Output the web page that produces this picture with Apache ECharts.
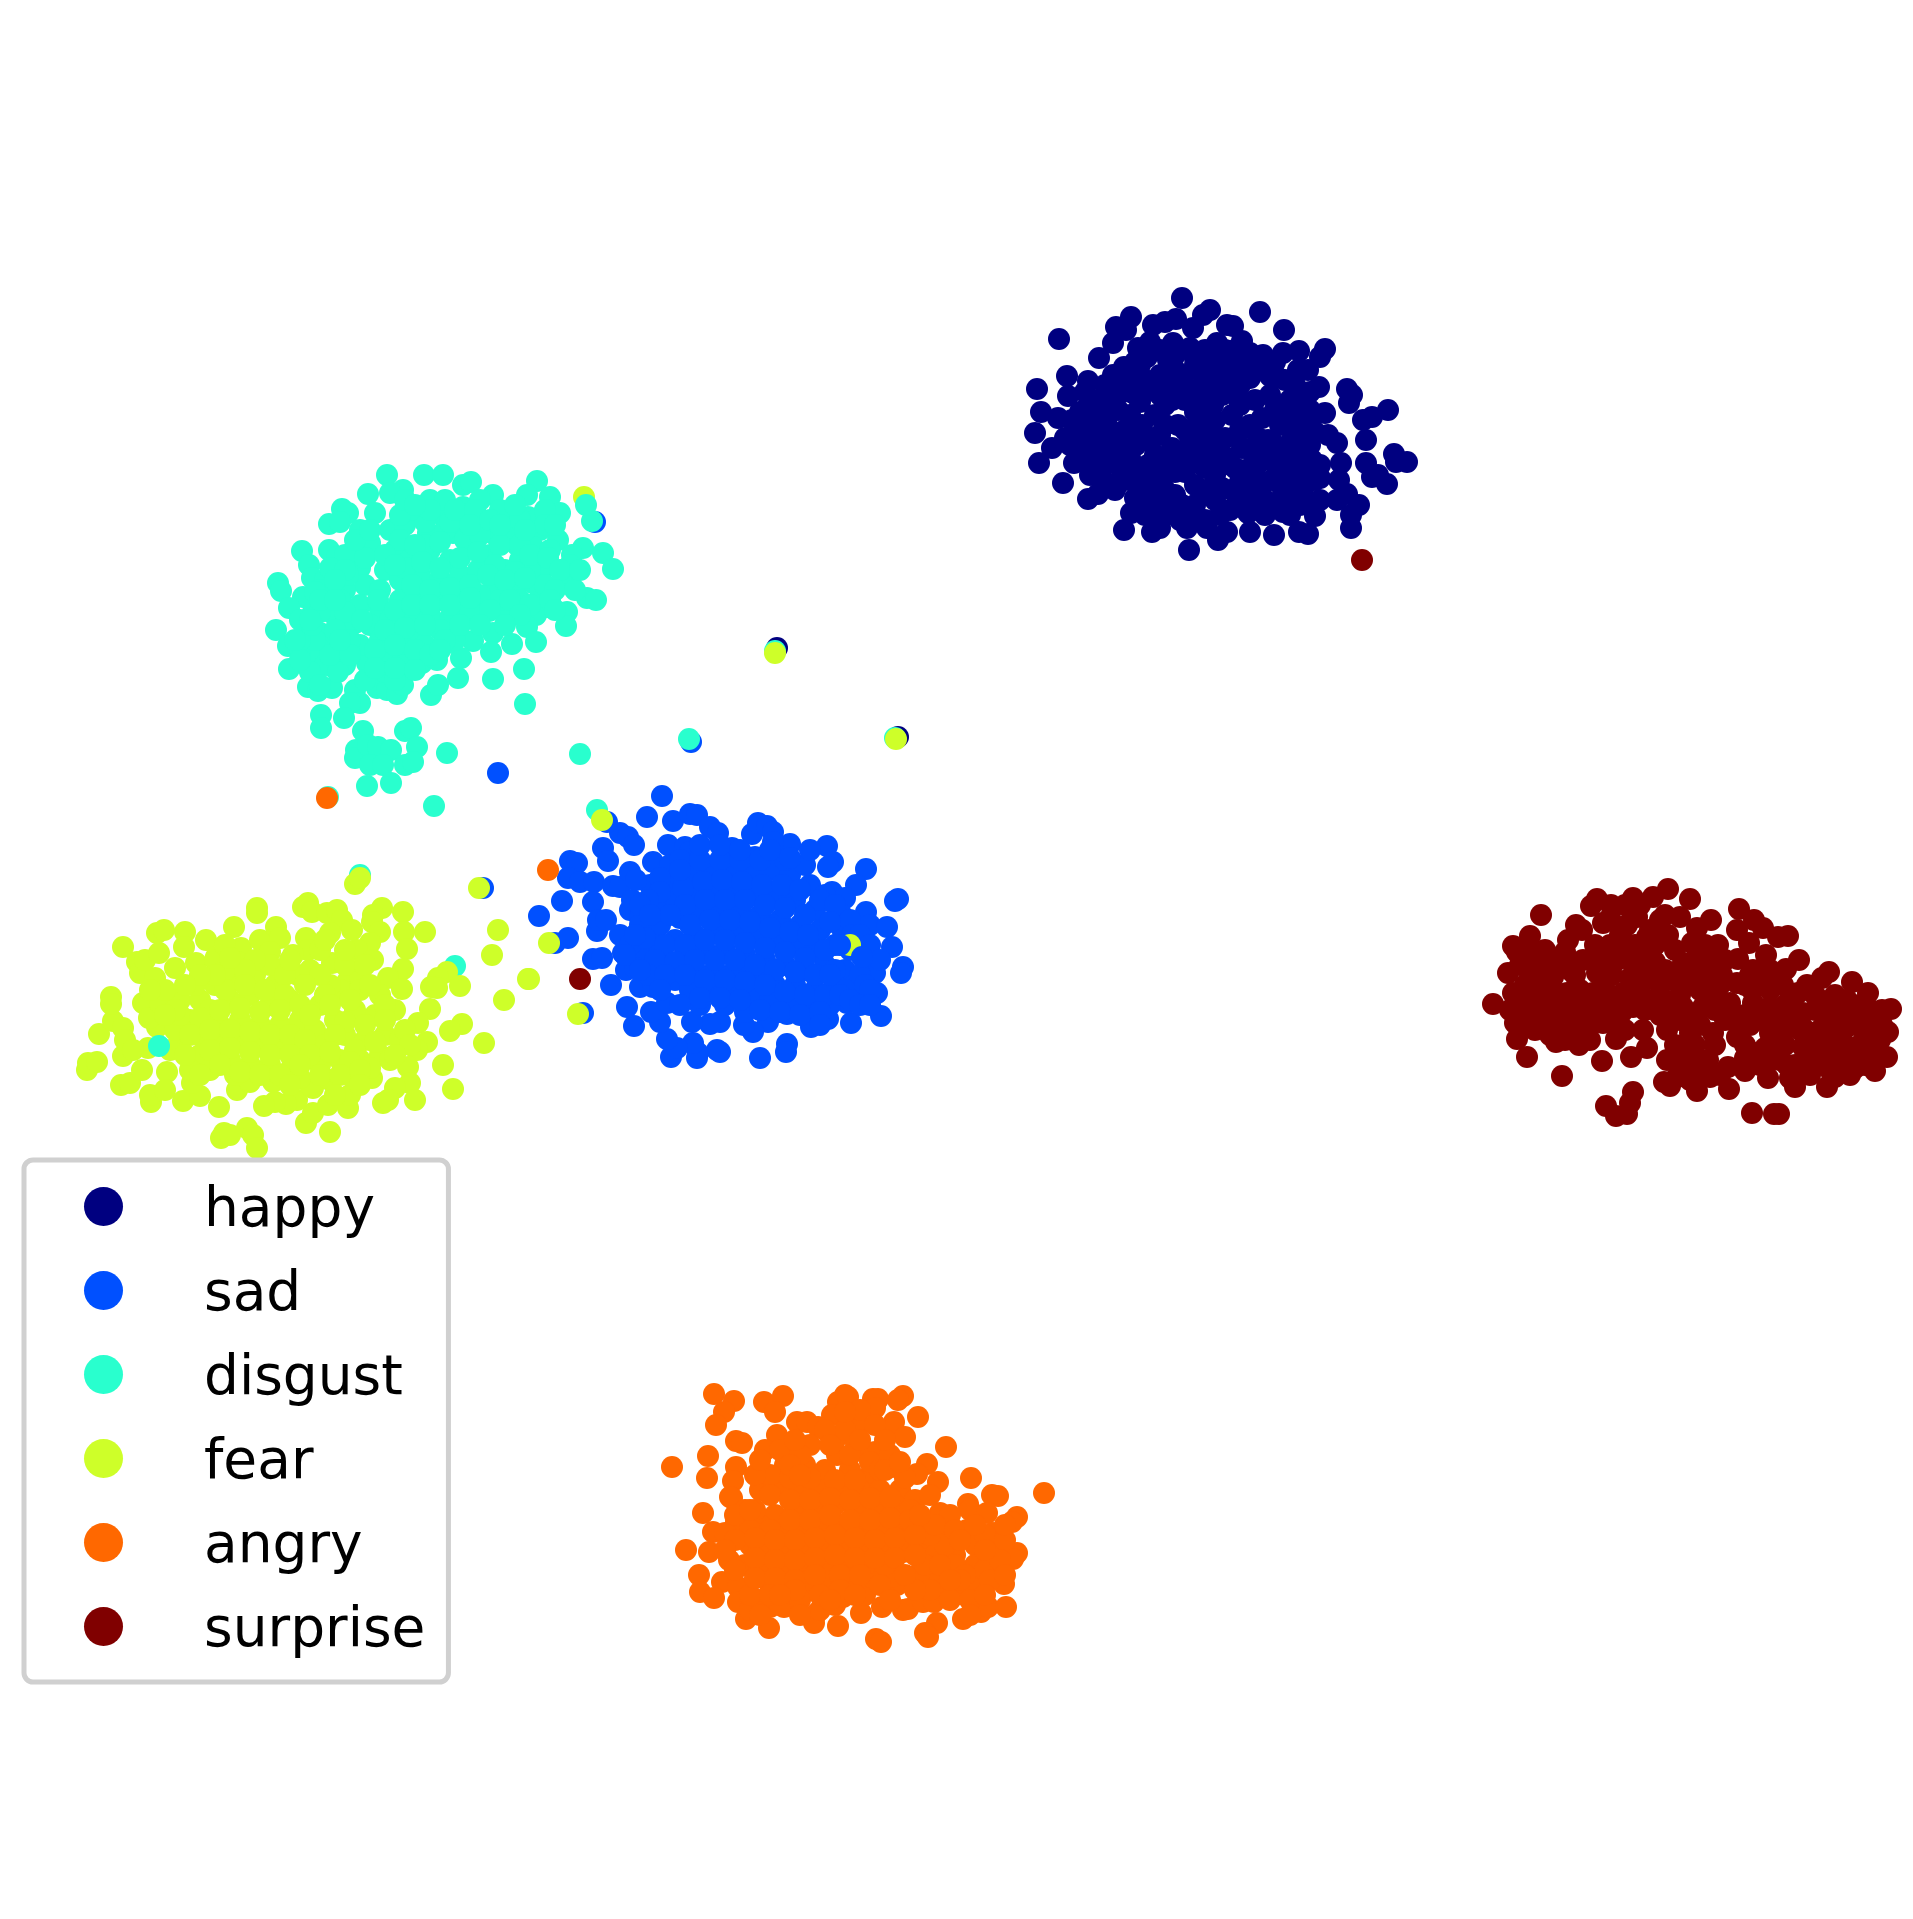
<!DOCTYPE html>
<html lang="en">

<head>
    <meta charset="UTF-8">
    <title>Emotion clusters</title>
    <script src="https://cdn.jsdelivr.net/npm/echarts@6/dist/echarts.min.js"></script>
    <style>
        body { margin: 0; background: #fff; }
        #main { width: 1913px; height: 1919px; }
    </style>
</head>

<body>
    <div id="main"></div>
    <script>
        // points, x / y in the picture's own scale
        var labels = ['happy', 'sad', 'disgust', 'fear', 'angry', 'surprise'];
        var colors = ['#000080', '#0050ff', '#29ffce', '#ceff29', '#ff6800', '#800000'];

        var happy = [[1182,298],[1059,339],[1260,312],[1284,330],[1210,310],[1203,315],[1131,317],[1116,327],[1126,330],[1113,343],[1099,358],[1153,325],[1165,322],[1176,319],[1193,328],[1227,325],[1233,326],[1242,341],[1217,343],[1173,343],[1150,342],[1138,348],[1147,357],[1250,353],[1263,355],[1283,353],[1299,351],[1325,349],[1320,357],[1308,370],[1298,370],[1277,377],[1270,376],[1319,387],[1310,392],[1302,397],[1347,389],[1352,395],[1349,403],[1388,410],[1372,417],[1363,420],[1366,440],[1394,454],[1396,462],[1407,462],[1366,463],[1372,477],[1378,475],[1387,484],[1359,505],[1351,515],[1351,528],[1325,413],[1315,432],[1328,435],[1337,443],[1310,445],[1341,463],[1320,478],[1339,480],[1347,494],[1320,500],[1337,500],[1315,516],[1308,534],[1299,532],[1274,535],[1283,512],[1250,532],[1248,513],[1227,532],[1218,540],[1207,528],[1189,550],[1187,528],[1160,528],[1152,532],[1124,530],[1131,513],[1135,498],[1132,480],[1153,478],[1103,480],[1098,494],[1088,499],[1063,483],[1074,463],[1095,460],[1039,463],[1052,448],[1065,438],[1035,433],[1041,412],[1058,418],[1072,420],[1037,389],[1067,376],[1068,396],[1088,381],[1090,403],[1113,375],[1124,367],[1130,378],[1108,395],[1133,393],
            [1100,400],[1118,410],[1140,402],[1155,415],[1172,400],[1190,390],[1205,385],[1222,395],[1240,385],[1255,400],[1275,410],[1290,420],[1300,440],[1285,455],[1268,440],[1250,425],[1232,415],[1213,405],[1195,412],[1178,425],[1160,435],[1142,425],[1125,430],[1107,425],[1090,430],[1082,448],[1100,448],[1118,452],[1136,445],[1155,455],[1172,448],[1190,438],[1208,430],[1225,438],[1242,448],[1260,462],[1278,470],[1295,478],[1305,465],[1283,490],[1262,485],[1245,470],[1228,458],[1210,452],[1192,462],[1175,472],[1158,478],[1140,468],[1122,470],[1105,465],[1115,490],[1175,495],[1195,485],[1215,475],[1232,490],[1250,500],[1195,505],[1170,510],[1150,505],[1215,500],[1230,510],[1205,520],[1180,520],[1160,375],[1175,370],[1195,365],[1215,365],[1235,370],[1160,395],[1205,350],[1190,348],[1225,350],
            [1168,360],[1195,358],[1222,362],[1245,365],[1262,368],[1145,380],[1165,385],[1183,378],[1203,375],[1222,380],[1250,378],[1085,392],[1122,392],[1148,390],[1178,388],[1215,392],[1238,398],[1270,395],[1290,400],[1080,412],[1098,412],[1130,415],[1165,405],[1185,400],[1205,398],[1215,420],[1240,405],[1262,418],[1280,425],[1300,412],[1075,435],[1095,438],[1115,438],[1130,440],[1148,440],[1165,425],[1185,430],[1200,420],[1240,430],[1258,438],[1275,445],[1292,440],[1070,445],[1085,462],[1112,460],[1130,458],[1148,465],[1165,462],[1182,455],[1200,445],[1218,445],[1235,468],[1252,452],[1270,455],[1288,470],[1300,455],[1120,482],[1135,480],[1147,490],[1165,490],[1185,472],[1205,468],[1222,465],[1240,482],[1255,475],[1272,480],[1295,495],[1305,485],[1160,495],[1182,505],[1205,490],[1222,488],[1245,490],[1265,500],[1280,505],[1300,505],
            [1160,350],[1175,355],[1135,362],[1140,365],[1235,350],[1250,365],[1275,362],[1285,380],[1295,385],[1310,410],[1300,395],[1085,410],[1105,385],[1095,420],[1080,425],[1110,440],[1090,475],[1105,445],[1170,500],[1145,515],[1165,515],[1190,515],[1220,515],[1240,505],[1265,515],[1290,515],[1310,425],[1312,460],[1300,425],[1320,465],[1315,480],[1305,500],
            [777,648],[898,737]];

        var sad = [[662,796],[647,817],[673,821],[690,814],[697,815],[710,827],[718,833],[620,833],[628,837],[634,845],[603,848],[608,861],[570,861],[577,863],[568,878],[580,882],[594,882],[562,901],[593,902],[613,886],[620,887],[630,872],[653,862],[668,845],[685,847],[690,852],[732,848],[752,834],[758,823],[767,826],[773,832],[790,844],[755,857],[773,842],[827,846],[833,862],[828,867],[866,869],[856,885],[832,892],[845,898],[866,912],[841,914],[898,899],[895,901],[870,925],[887,927],[843,932],[892,947],[863,957],[875,973],[903,967],[901,973],[877,993],[857,992],[881,1016],[851,1023],[847,1003],[828,1019],[811,1027],[787,1014],[787,1044],[786,1052],[760,1058],[768,1022],[753,1032],[744,1025],[720,1052],[717,1050],[697,1058],[698,1053],[693,1043],[671,1057],[677,1048],[667,1039],[720,1022],[710,1024],[692,1022],[660,1022],[651,1012],[667,1003],[634,1026],[627,1007],[611,985],[640,987],[653,987],[626,970],[655,968],[593,959],[602,958],[623,953],[640,953],[597,931],[598,920],[606,920],[620,935],[630,910],[640,918],[632,900],
            [650,885],[670,880],[690,875],[710,870],[730,870],[750,875],[770,870],[790,875],[810,885],[825,895],[815,910],[795,900],[775,895],[755,895],[735,890],[715,890],[695,893],[675,900],[655,905],[640,925],[660,925],[680,918],[700,912],[720,910],[740,910],[760,915],[780,920],[800,925],[820,930],[835,945],[815,950],[795,945],[775,940],[755,935],[735,930],[715,930],[695,935],[675,940],[655,945],[645,960],[665,960],[685,955],[705,950],[725,950],[745,955],[765,960],[785,965],[805,970],[825,965],[845,970],[855,985],[835,985],[815,990],[795,985],[775,985],[755,975],[735,970],[715,970],[695,970],[675,980],[690,990],[710,990],[730,990],[750,995],[770,1000],[790,1000],[810,1005],[830,1005],[700,1005],[725,1005],[745,1012],[680,1005],
            [670,865],[680,860],[700,860],[720,860],[740,860],[760,860],[785,860],[805,865],[660,878],[660,892],[683,888],[703,882],[722,880],[742,882],[762,885],[782,885],[800,890],[820,900],[685,905],[705,900],[725,900],[745,900],[765,905],[785,908],[805,915],[835,905],[850,920],[670,915],[690,925],[710,920],[730,920],[750,922],[770,928],[790,932],[808,935],[830,922],[852,935],[630,945],[645,938],[665,945],[685,945],[705,940],[725,940],[745,943],[765,948],[785,952],[805,958],[825,950],[850,950],[635,968],[655,960],[675,962],[695,960],[715,960],[735,960],[755,965],[775,970],[795,972],[815,975],[835,970],[860,975],[648,975],[665,975],[685,975],[705,980],[725,980],[745,982],[765,985],[785,992],[805,995],[825,995],[845,990],[865,985],[660,990],[700,998],[720,998],[740,1000],[760,1010],[780,1012],[800,1015],[820,1012],[840,995],[870,990],
            [636,880],[648,900],[640,905],[635,935],[650,915],[625,955],[640,970],[860,935],[870,945],[880,960],[850,1000],[860,1005],[830,975],[870,1005],[820,1025],[700,845],[720,845],[740,850],[680,870],[770,850],[790,858],[810,850],
            [691,742],[595,522],[607,822],[555,943],[583,1013],[483,888],[498,773],[539,916],[568,938]];

        var disgust = [[387,475],[424,475],[443,475],[463,485],[471,482],[537,481],[527,495],[550,497],[560,513],[493,495],[480,500],[403,490],[390,493],[368,494],[342,509],[348,513],[329,524],[340,522],[375,513],[413,512],[442,515],[463,507],[505,515],[528,517],[538,518],[540,530],[558,540],[428,533],[356,543],[370,543],[390,530],[453,533],[483,523],[517,545],[533,547],[583,548],[572,555],[603,553],[613,569],[570,565],[570,577],[562,583],[545,567],[533,583],[302,551],[329,550],[337,557],[309,565],[360,568],[278,583],[281,591],[312,578],[303,597],[289,608],[313,612],[332,613],[587,598],[596,600],[567,612],[547,607],[536,615],[566,626],[527,627],[536,642],[507,612],[489,611],[493,633],[473,641],[512,644],[491,652],[524,669],[493,679],[525,704],[466,618],[472,600],[276,630],[288,646],[308,637],[320,633],[333,639],[289,669],[308,667],[308,687],[318,691],[332,688],[350,643],[355,623],[355,690],[360,703],[350,703],[344,718],[321,715],[321,728],[377,688],[387,690],[397,694],[403,685],[431,695],[438,685],[458,678],[461,658],[422,663],[437,660],[447,643],[407,647],[395,655],[383,663],[367,663],[333,667],
            [363,731],[405,731],[411,728],[417,747],[447,753],[356,750],[355,758],[368,745],[378,747],[391,750],[370,765],[383,765],[405,765],[413,762],[367,786],[391,783],[434,806],[580,754],[597,810],
            [395,550],[410,560],[430,550],[450,560],[470,545],[490,555],[505,570],[520,560],[385,570],[365,585],[345,590],[325,595],[325,580],[380,590],[400,580],[420,575],[440,580],[460,575],[478,570],[495,585],[515,590],[540,590],[520,600],[500,600],[480,595],[460,600],[440,600],[420,595],[400,600],[380,610],[360,605],[340,600],[345,625],[370,625],[390,620],[410,615],[430,615],[450,618],[470,610],[440,630],[420,635],[400,640],[380,640],[455,640],[360,645],[320,650],[310,655],[325,665],[345,665],[365,680],[385,672],[405,665],[425,645],[338,672],[310,672],[395,680],[530,570],[545,585],[465,525],[445,530],[425,545],
            [405,525],[425,522],[450,522],[495,535],[510,530],[520,520],[500,510],[400,540],[415,545],[440,542],[465,540],[480,535],[500,545],[520,545],[550,550],[345,555],[365,558],[385,555],[405,568],[422,562],[440,568],[460,558],[478,552],[495,565],[515,572],[530,555],[548,558],[560,570],[330,568],[348,575],[395,565],[412,585],[430,590],[450,588],[470,585],[488,575],[505,580],[525,578],[555,590],[575,590],[320,612],[345,612],[362,620],[378,600],[395,610],[412,605],[430,605],[450,605],[470,598],[490,610],[510,600],[530,605],[550,600],[335,630],[350,640],[385,630],[405,628],[425,625],[445,640],[460,625],[375,650],[395,645],[415,650],[430,655],[440,650],[340,650],[330,655],[350,655],[300,650],[315,640],[300,640],[300,660],[320,685],[375,668],[395,668],[415,670],[410,510],[430,500],[445,500],[430,510],[400,515],
            [360,530],[405,500],[415,505],[455,510],[475,510],[470,525],[515,505],[545,510],[545,525],[490,520],[525,530],[555,525],[500,525],[320,590],[345,570],[315,592],[335,580],[355,540],[370,530],[580,570],[555,610],[520,615],[505,625],[480,625],[320,600],[335,600],[300,620],[312,625],[340,640],[295,640],[310,620],
            [592,521],[328,797],[689,739],[775,651],[895,738],[360,875],[455,966]];

        var fear = [[355,884],[360,878],[479,888],[498,930],[492,955],[528,979],[504,1000],[484,1043],[447,972],[438,978],[431,987],[437,988],[460,986],[462,1024],[450,1031],[443,1065],[453,1089],[430,1009],[418,1023],[427,1042],[417,1050],[408,1067],[410,1083],[415,1100],[395,1088],[383,1103],[388,1100],[330,1132],[306,1123],[313,1113],[328,1105],[348,1108],[350,1095],[372,1078],[297,1100],[286,1104],[275,1102],[264,1106],[313,1088],[273,1082],[283,1077],[237,1090],[250,1082],[219,1107],[247,1128],[253,1135],[257,1148],[221,1138],[224,1133],[230,1135],[183,1101],[200,1096],[192,1083],[151,1102],[150,1095],[121,1085],[130,1083],[142,1070],[167,1072],[87,1070],[88,1063],[97,1062],[123,1056],[99,1034],[113,1021],[123,1028],[125,1040],[111,997],[111,1004],[143,1003],[157,1027],[149,1018],[160,1003],[180,1000],[123,947],[137,962],[140,973],[155,978],[145,960],[159,953],[157,933],[164,930],[185,932],[184,947],[206,940],[216,957],[196,963],[175,968],[234,927],[257,908],[257,913],[241,948],[260,940],[276,927],[280,938],[237,962],[253,965],[270,952],[306,938],[308,950],[293,955],[308,903],[303,907],[312,912],[327,913],[337,910],[342,920],[330,933],[352,930],[382,908],[373,915],[372,922],[380,932],[403,912],[404,932],[425,932],[407,949],[370,943],[357,950],[373,960],[403,969],[388,978],[402,989],[332,963],[298,975],[347,982],[360,977],[148,1048],[133,1050],
            [200,1000],[215,985],[235,980],[255,975],[275,985],[290,1000],[270,1005],[250,995],[230,1000],[210,1010],[190,1020],[180,1040],[200,1035],[220,1025],[240,1020],[260,1025],[280,1025],[300,1020],[320,1005],[340,990],[360,990],[380,995],[395,1010],[375,1015],[355,1010],[335,1020],[315,1030],[325,1045],[345,1035],[365,1040],[385,1035],[400,1040],[380,1055],[360,1060],[340,1060],[320,1065],[300,1050],[280,1045],[260,1045],[240,1040],[220,1045],[200,1055],[210,1070],[230,1060],[250,1065],[270,1065],[290,1070],[310,1085],[330,1080],[350,1075],[235,1075],[190,1070],[170,1050],[175,1030],[270,965],[310,970],[330,985],[255,960],[390,1060],[405,1030],[410,1045],[215,960],[195,985],[300,1078],[165,1090],
            [225,970],[245,970],[285,975],[320,975],[345,965],[365,965],[225,990],[245,985],[265,990],[285,995],[305,985],[325,995],[350,1000],[370,985],[385,1005],[180,1015],[200,1018],[220,1010],[240,1008],[260,1012],[280,1010],[300,1005],[310,1015],[330,1005],[345,1022],[365,1025],[385,1020],[190,1035],[210,1030],[230,1030],[250,1032],[270,1035],[290,1035],[305,1040],[335,1035],[355,1050],[375,1042],[395,1055],[185,1055],[210,1050],[230,1048],[250,1052],[270,1055],[290,1055],[310,1055],[330,1052],[350,1062],[370,1068],[200,1075],[220,1065],[240,1072],[260,1075],[280,1075],[300,1065],[320,1075],[340,1075],[360,1070],[290,1085],[335,1095],[360,1085],
            [225,945],[230,958],[215,975],[200,975],[185,985],[165,990],[150,990],[175,1010],[165,1015],[290,960],[320,950],[345,950],[325,940],
            [584,497],[775,653],[896,739],[602,820],[549,943],[578,1014],[529,979],[850,945]];

        var angry = [[714,1394],[734,1401],[724,1412],[716,1425],[764,1402],[783,1396],[775,1412],[845,1395],[838,1402],[848,1397],[873,1399],[878,1399],[875,1408],[903,1396],[898,1400],[918,1417],[894,1422],[893,1428],[905,1437],[859,1425],[832,1415],[797,1422],[807,1422],[818,1427],[777,1435],[736,1441],[742,1443],[765,1450],[946,1447],[927,1464],[938,1482],[917,1474],[895,1467],[875,1452],[857,1450],[837,1455],[708,1456],[672,1467],[707,1478],[736,1467],[733,1481],[764,1482],[732,1498],[730,1497],[971,1478],[992,1495],[998,1496],[1044,1493],[968,1504],[970,1510],[987,1513],[1017,1517],[1012,1522],[940,1513],[703,1513],[713,1532],[736,1522],[725,1533],[686,1550],[709,1552],[729,1560],[699,1575],[700,1592],[722,1582],[714,1598],[738,1587],[738,1602],[746,1619],[769,1628],[750,1610],[784,1607],[770,1607],[808,1590],[816,1614],[814,1623],[835,1605],[843,1597],[838,1626],[861,1613],[865,1595],[882,1607],[876,1639],[881,1642],[903,1610],[908,1609],[897,1585],[923,1602],[934,1602],[937,1623],[925,1633],[928,1637],[963,1619],[981,1612],[988,1607],[1006,1607],[1004,1584],[961,1594],[978,1588],[1017,1553],[1013,1559],[993,1565],[993,1533],[967,1530],[952,1533],[953,1575],[933,1583],[920,1572],[893,1577],[903,1552],[873,1578],
            [790,1450],[810,1445],[835,1440],[855,1440],[785,1465],[805,1465],[825,1470],[850,1470],[870,1475],[780,1485],[800,1490],[820,1490],[840,1490],[860,1490],[880,1490],[900,1490],[915,1500],[895,1505],[875,1510],[855,1510],[835,1505],[815,1510],[795,1510],[775,1515],[760,1525],[780,1530],[800,1530],[820,1525],[840,1525],[860,1530],[880,1530],[900,1525],[920,1525],[940,1535],[925,1545],[905,1545],[885,1550],[865,1550],[845,1545],[825,1545],[805,1550],[785,1550],[765,1550],[750,1545],[745,1565],[765,1570],[785,1570],[805,1570],[825,1565],[845,1565],[865,1565],[885,1565],[770,1585],[790,1590],[810,1580],[830,1585],[850,1580],[760,1600],[780,1605],[935,1555],[955,1555],[975,1545],[975,1565],[995,1550],[955,1565],[975,1585],[945,1545],[925,1565],[750,1595],[735,1570],[760,1490],[745,1510],[820,1610],
            [780,1450],[800,1455],[850,1455],[870,1462],[890,1455],[795,1440],[845,1430],[860,1410],[845,1412],[825,1430],[875,1425],[860,1440],[770,1475],[790,1478],[810,1478],[835,1480],[855,1480],[880,1470],[905,1478],[770,1495],[790,1500],[810,1500],[830,1498],[850,1500],[870,1498],[890,1498],[910,1510],[930,1495],[750,1530],[770,1530],[790,1520],[810,1520],[830,1515],[850,1520],[870,1520],[890,1518],[910,1520],[930,1535],[950,1515],[735,1540],[755,1538],[775,1540],[795,1540],[815,1538],[835,1535],[855,1538],[875,1540],[895,1538],[915,1535],[755,1558],[775,1560],[795,1560],[815,1558],[835,1555],[855,1558],[875,1558],[895,1558],[915,1555],[940,1565],[985,1535],[1005,1540],[985,1570],[965,1575],[755,1578],[775,1578],[795,1580],[815,1575],[840,1575],[860,1575],[880,1585],[940,1590],[960,1580],[990,1580],[770,1595],[800,1600],[820,1595],[840,1590],[950,1600],[970,1600],
            [935,1525],[955,1530],[975,1525],[1005,1525],[1000,1560],[1005,1575],[960,1540],[985,1550],[950,1580],[970,1615],[985,1595],[930,1590],[915,1590],[905,1575],[890,1600],[920,1515],[755,1475],[760,1460],[790,1465],[800,1475],[885,1470],[900,1462],[885,1440],[830,1445],[755,1510],[735,1515],[725,1550],[750,1510],[800,1615],[795,1590],[760,1615],[780,1595],[855,1595],[830,1600],
            [327,798],[548,870]];

        var surprise = [[1541,915],[1530,936],[1513,946],[1517,952],[1532,955],[1508,973],[1530,972],[1547,964],[1493,1004],[1513,993],[1515,1023],[1527,1026],[1517,1039],[1527,1057],[1556,1042],[1550,1035],[1579,1045],[1583,1033],[1562,1076],[1602,1061],[1603,1023],[1616,1039],[1631,1057],[1647,1048],[1643,1030],[1633,1092],[1606,1106],[1630,1103],[1616,1116],[1627,1114],[1752,1113],[1774,1114],[1779,1114],[1795,1087],[1768,1078],[1745,1071],[1729,1089],[1697,1091],[1670,1086],[1664,1082],[1677,1077],[1667,1060],[1683,1057],[1708,1060],[1728,1067],[1710,1077],[1827,1087],[1835,1077],[1855,1068],[1875,1071],[1887,1057],[1888,1032],[1891,1009],[1882,1010],[1868,993],[1852,982],[1847,1000],[1829,972],[1828,1007],[1822,978],[1807,985],[1798,993],[1786,969],[1799,960],[1766,955],[1788,936],[1778,937],[1763,928],[1754,920],[1739,909],[1737,930],[1749,943],[1738,959],[1711,920],[1718,945],[1697,928],[1692,943],[1680,917],[1690,899],[1668,889],[1653,897],[1633,898],[1611,905],[1597,899],[1591,906],[1603,923],[1627,925],[1576,925],[1582,930],[1568,940],[1565,952],[1595,945],[1623,947],[1647,937],[1660,920],[1637,917],[1683,963],[1708,970],[1753,970],[1767,982],[1787,1065],[1807,1063],[1822,1062],[1853,1060],[1873,1050],[1843,1050],[1873,1023],[1847,1027],[1820,1030],[1803,1013],[1787,1027],[1803,1047],[1770,1033],[1757,1053],[1737,1037],[1713,1033],[1690,1033],[1667,1030],[1703,1007],[1730,1003],[1753,1003],[1770,1007],[1737,983],[1683,1007],[1673,980],[1693,980],[1650,1007],[1657,980],[1637,973],[1643,957],[1617,960],[1623,993],[1597,973],[1583,960],[1570,970],[1553,977],[1543,993],[1567,993],[1593,993],[1537,1013],[1560,1013],[1580,1013],[1610,1007],[1633,1007],[1535,1000],[1520,1005],
            [1610,918],[1625,905],[1640,905],[1620,935],[1650,930],[1665,915],[1610,945],[1635,945],[1655,945],[1668,935],[1675,950],[1560,965],[1595,960],[1610,958],[1630,960],[1655,962],[1665,970],[1695,960],[1722,975],[1745,985],[1540,975],[1575,975],[1612,975],[1630,978],[1650,975],[1720,985],[1705,985],[1750,975],[1770,970],[1525,985],[1555,992],[1580,990],[1605,990],[1640,992],[1660,995],[1752,990],[1770,990],[1783,985],[1655,1000],[1510,1010],[1530,1012],[1550,1005],[1570,1005],[1595,1012],[1622,1012],[1645,1010],[1670,1008],[1695,1015],[1715,1010],[1745,1015],[1762,1020],[1785,1005],[1815,1010],[1535,1030],[1555,1028],[1575,1025],[1590,1025],[1660,1015],[1680,1020],[1700,1025],[1725,1020],[1750,1025],[1775,1020],[1795,1020],[1830,1018],[1860,1020],[1882,1025],[1675,1045],[1695,1045],[1715,1045],[1745,1045],[1765,1048],[1785,1045],[1815,1045],[1830,1045],[1865,1035],[1880,1040],[1850,1020],[1680,1070],[1695,1060],[1720,1075],[1745,1058],[1770,1060],[1795,1065],[1835,1062],[1865,1065],[1880,1055],[1800,1030],[1835,1030],[1860,1005],[1815,995],[1835,995],[1845,1012],[1700,1075],[1690,1080],
            [1685,975],[1660,985],[1680,995],[1700,990],[1715,1000],[1725,1010],[1735,1015],[1725,960],[1715,955],[1700,950],[1705,945],[1740,1020],[1790,1000],[1805,1030],[1825,1040],[1845,1045],[1865,1050],[1780,1060],[1810,1075],[1830,1070],[1850,1075],[1780,1030],[1760,1065],[1790,1078],[1860,1045],[1840,1005],[1870,1010],[1545,950],[1555,960],[1520,965],[1545,1020],[1520,1020],[1565,1040],[1590,1040],[1610,1020],[1625,1030],[1600,1000],[1585,1005],
            [1362,560],[580,979]];

        // these few sit on top of a later class in the picture
        var sadOver = [[840,945],[862,957]];
        var disgustOver = [[586,505],[159,1046]];

        var xMin = 0, xMax = 1913, yMin = 0, yMax = 1919;

        function dots(name, color, values) {
            return {
                name: name,
                type: 'scatter',
                data: values,
                symbolSize: 22,
                itemStyle: { color: color, opacity: 1 },
                silent: true
            };
        }

        var chart = echarts.init(document.getElementById('main'));
        var option = {
            animation: false,
            backgroundColor: '#fff',
            grid: { left: 0, right: 0, top: 0, bottom: 0 },
            xAxis: { type: 'value', min: xMin, max: xMax, show: false },
            yAxis: { type: 'value', min: yMin, max: yMax, inverse: true, show: false },
            legend: {
                data: labels.map(function (l) { return { name: l, icon: 'circle' }; }),
                orient: 'vertical',
                left: 24,
                top: 1160,
                selectedMode: false,
                itemWidth: 39,
                itemHeight: 39,
                itemGap: 29,
                padding: [24, 23, 23, 60],
                backgroundColor: '#fff',
                borderColor: '#d0d0d0',
                borderWidth: 5,
                borderRadius: 9,
                formatter: '{t|{name}}',
                textStyle: {
                    padding: [0, 0, 0, 76],
                    rich: {
                        t: {
                            fontFamily: 'DejaVu Sans',
                            fontSize: 55,
                            color: '#000',
                            padding: [10, 0, 0, 0]
                        }
                    }
                }
            },
            series: [
                dots(labels[0], colors[0], happy),
                dots(labels[1], colors[1], sad),
                dots(labels[2], colors[2], disgust),
                dots(labels[3], colors[3], fear),
                dots(labels[4], colors[4], angry),
                dots(labels[5], colors[5], surprise),
                dots(labels[1], colors[1], sadOver),
                dots(labels[2], colors[2], disgustOver)
            ]
        };
        chart.setOption(option);
    </script>
</body>

</html>
